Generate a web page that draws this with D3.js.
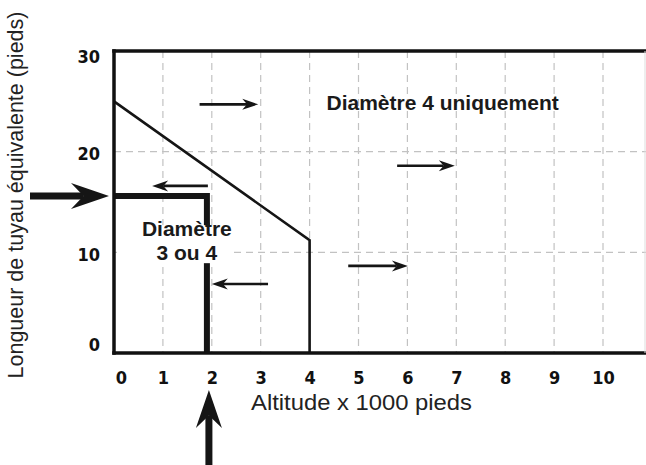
<!DOCTYPE html>
<html>
<head>
<meta charset="utf-8">
<style>
  body { margin: 0; padding: 0; background: #fff; }
  svg { display: block; }
</style>
</head>
<body>
<div id="chart"></div>
<script src="https://cdnjs.cloudflare.com/ajax/libs/d3/7.8.5/d3.min.js"></script>
<script>
// axis ticks / grid
var xTicks = [0, 1, 2, 3, 4, 5, 6, 7, 8, 9, 10],
    yTicks = [0, 10, 20, 30],
    xGrid = [1, 2, 3, 4, 5, 6, 7, 8, 9, 10],
    yGrid = [10, 20];

// limit between "3 ou 4" and "4 uniquement"
var limitLine = [[0, 25], [4, 11.2], [4, 0]];

// worked example (altitude ~1900 ft, length ~15.6 ft)
var exampleX = 1.9,
    exampleY = 15.6;
var examplePath = [[0, 15.6], [1.9, 15.6], [1.9, 0]];

// small direction arrows [x1, x2, y]
var smallArrows = [
  [1.75, 2.95, 24.7],
  [1.92, 0.78, 16.6],
  [3.15, 2.0, 6.85],
  [5.79, 6.97, 18.6],
  [4.79, 6.01, 8.65]
];

var zoneLabels = [
  {x: 6.72, y: 24.85, lines: ["Diamètre 4 uniquement"]},
  {x: 1.49, y: 12.4, lines: ["Diamètre", "3 ou 4"]}
];

var W = 646, H = 465;

var svg = d3.select("#chart").append("svg")
    .attr("width", W)
    .attr("height", H);

var x = d3.scaleLinear().domain([0, 10]).range([114, 603]),
    y = d3.scaleLinear().domain([0, 30]).range([353, 51]);

var tickFont = "'DejaVu Sans Condensed', 'Liberation Sans Narrow', sans-serif",
    textFont = "'Liberation Sans', Arial, sans-serif";

// grid
var grid = svg.append("g")
    .attr("stroke", "#c2c2c2")
    .attr("stroke-width", 1.2)
    .attr("stroke-dasharray", "7,5");

grid.selectAll(".vgrid")
  .data(xGrid)
  .enter().append("line")
    .attr("x1", d => x(d)).attr("x2", d => x(d))
    .attr("y1", y(30)).attr("y2", y(0));

grid.selectAll(".hgrid")
  .data(yGrid)
  .enter().append("line")
    .attr("x1", x(0)).attr("x2", W)
    .attr("y1", d => y(d)).attr("y2", d => y(d));

var line = d3.line().x(d => x(d[0])).y(d => y(d[1]));

svg.append("path")
    .datum(limitLine)
    .attr("fill", "none")
    .attr("stroke", "#151515")
    .attr("stroke-width", 2.6)
    .attr("d", line);

svg.append("path")
    .datum(examplePath)
    .attr("fill", "none")
    .attr("stroke", "#151515")
    .attr("stroke-width", 6)
    .attr("stroke-linejoin", "miter")
    .attr("d", line);

// frame
var frame = svg.append("g")
    .attr("stroke", "#111")
    .attr("stroke-width", 3.5)
    .attr("stroke-linecap", "square");
frame.append("line").attr("x1", x(0)).attr("x2", W).attr("y1", y(30)).attr("y2", y(30));
frame.append("line").attr("x1", x(0)).attr("x2", W).attr("y1", y(0)).attr("y2", y(0));
frame.append("line").attr("x1", x(0)).attr("x2", x(0)).attr("y1", y(30)).attr("y2", y(0));
svg.append("line")
    .attr("x1", W - 1).attr("x2", W - 1)
    .attr("y1", y(30)).attr("y2", y(0))
    .attr("stroke", "#ddd");

// tick labels
var xAxis = svg.append("g")
    .attr("transform", "translate(0," + y(0) + ")")
    .call(d3.axisBottom(x).tickValues(xTicks).tickSize(0).tickFormat(d3.format("d")));
xAxis.select(".domain").remove();
xAxis.selectAll(".tick text")
    .attr("y", 31)
    .attr("dy", 0)
    .attr("dx", d => d === 0 ? 7 : 0)
    .attr("font-family", tickFont)
    .attr("font-weight", "bold")
    .attr("font-size", 18)
    .attr("fill", "#111");

svg.append("g")
  .selectAll("text")
  .data(yTicks)
  .enter().append("text")
    .attr("x", x(0) - 14)
    .attr("y", d => Math.max(y(30) + 6, Math.min(y(0) - 8, y(d) + 2)))
    .attr("dy", "0.36em")
    .attr("text-anchor", "end")
    .attr("font-family", tickFont)
    .attr("font-weight", "bold")
    .attr("font-size", 18)
    .attr("fill", "#111")
    .text(d => d);

// axis titles
svg.append("text")
    .attr("x", 251)
    .attr("y", 410)
    .attr("font-family", textFont)
    .attr("font-size", 22)
    .attr("textLength", 221)
    .attr("lengthAdjust", "spacingAndGlyphs")
    .attr("fill", "#222")
    .text("Altitude x 1000 pieds");

svg.append("text")
    .attr("transform", "translate(23,195) rotate(-90)")
    .attr("text-anchor", "middle")
    .attr("font-family", textFont)
    .attr("font-size", 21.5)
    .attr("fill", "#222")
    .text("Longueur de tuyau équivalente (pieds)");

// white patch behind the "3 ou 4" label
var lb = zoneLabels[1];
svg.append("rect")
    .attr("x", x(0) + 3)
    .attr("y", y(lb.y) - 3)
    .attr("width", x(lb.x) + 47 - x(0) - 3)
    .attr("height", 38)
    .attr("fill", "#fff");

svg.append("g")
  .selectAll("text")
  .data(zoneLabels)
  .enter().append("text")
    .attr("text-anchor", "middle")
    .attr("font-family", textFont)
    .attr("font-weight", "bold")
    .attr("font-size", 21)
    .attr("fill", "#1a1a1a")
  .selectAll("tspan")
  .data(d => d.lines.map((t, i) => ({t: t, i: i, d: d})))
  .enter().append("tspan")
    .attr("x", d => x(d.d.x))
    .attr("y", d => y(d.d.y) + d.i * 24)
    .attr("dy", "0.36em")
    .text(d => d.t);

// arrows
function arrow(x1, y1, x2, y2, o) {
  var dx = x2 - x1, dy = y2 - y1, L = Math.hypot(dx, dy),
      ux = dx / L, uy = dy / L, px = -uy, py = ux;
  var bx = x2 - ux * o.len, by = y2 - uy * o.len,
      nx = x2 - ux * o.len * (1 - o.notch), ny = y2 - uy * o.len * (1 - o.notch);
  svg.append("line")
      .attr("x1", x1).attr("y1", y1)
      .attr("x2", nx).attr("y2", ny)
      .attr("stroke", "#151515")
      .attr("stroke-width", o.w);
  svg.append("path")
      .attr("d", "M" + x2 + "," + y2 +
                 "L" + (bx + px * o.half) + "," + (by + py * o.half) +
                 "L" + nx + "," + ny +
                 "L" + (bx - px * o.half) + "," + (by - py * o.half) + "Z")
      .attr("fill", "#151515");
}

var small = {len: 16, half: 5.5, notch: 0.3, w: 2.6},
    big = {len: 38, half: 13, notch: 0.33, w: 7};

smallArrows.forEach(a => arrow(x(a[0]), y(a[2]), x(a[1]), y(a[2]), small));

arrow(30, y(exampleY), x(0) - 5, y(exampleY), big);
arrow(x(exampleX) + 2, H + 5, x(exampleX) + 2, y(0) + 37, big);
</script>
</body>
</html>
